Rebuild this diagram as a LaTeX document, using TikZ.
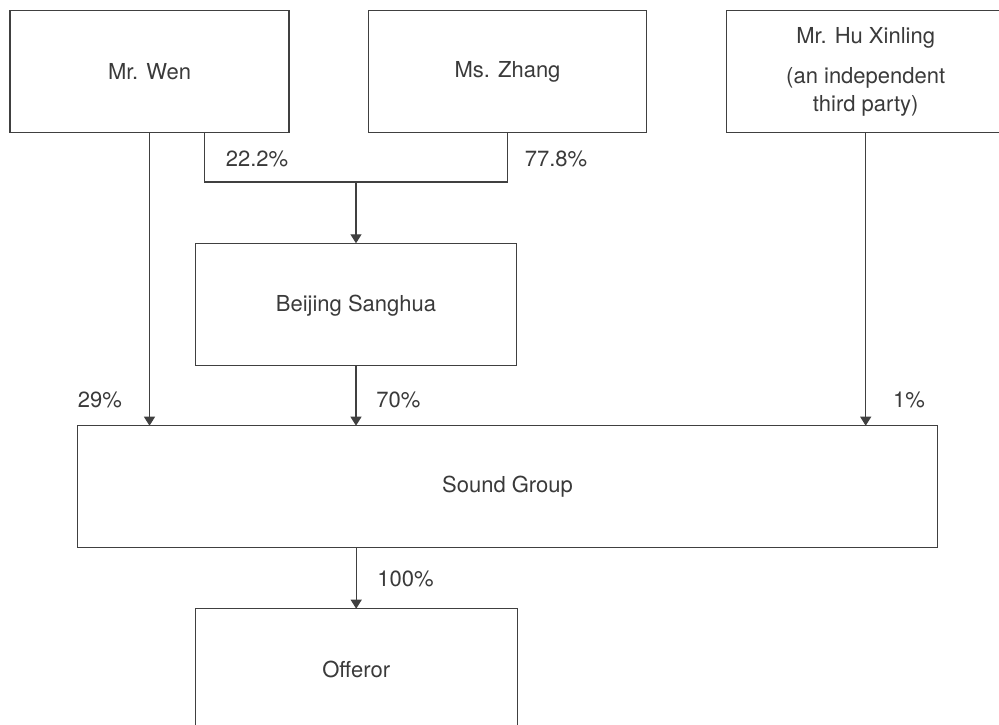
\documentclass[tikz,border=0pt]{standalone}
\usepackage{fontspec}
\setmainfont{TeX Gyre Heros}
\usetikzlibrary{arrows.meta}
\definecolor{lc}{HTML}{404040}
\definecolor{tc}{HTML}{3A3A3A}
\begin{document}
\begin{tikzpicture}[x=1pt,y=-1pt,
 box/.style={draw=lc, line width=1.1pt, inner sep=0pt, outer sep=0pt, minimum height=121.6pt, text=tc, font=\fontsize{22}{26}\selectfont, align=center},
 lbl/.style={text=tc, font=\fontsize{22}{26}\selectfont, inner sep=0pt},
 conn/.style={draw=lc, line width=1.1pt},
 arr/.style={conn, -{Triangle[width=11pt,length=9pt]}}]
\clip (0,0) rectangle (999,725);
\node[box, minimum width=279pt] (wen) at (149.5,71.5) {Mr. Wen};
\node[box, minimum width=278.4pt] (zhang) at (507.5,71.5) {Ms. Zhang};
\node[box, minimum width=278pt] (hu) at (865.7,71.5) {Mr. Hu Xinling\\[14pt](an independent\\[2pt]third party)};
\node[box, minimum width=321.4pt, minimum height=122pt, text depth=2pt] (bs) at (356,304.3) {Beijing Sanghua};
\node[box, minimum width=860.4pt, minimum height=122pt] (sg) at (507.5,486.7) {Sound Group};
\node[box, minimum width=321.7pt, minimum height=122pt] (off) at (356.2,669.7) {Offeror};
\coordinate (bL) at (204.7,182);
\coordinate (bR) at (507.5,182);
\coordinate (bJ) at (356,182);
\draw[arr] (wen.south) -- (wen.south |- sg.north);
\draw[conn] (wen.south -| bL) -- (bL) -- (bR) -- (zhang.south);
\draw[arr] (bJ) -- (bs.north);
\draw[arr] (bs.south) -- (bs.south |- sg.north);
\draw[arr] (hu.south) -- (hu.south |- sg.north);
\draw[arr] (sg.south -| off.north) -- (off.north);
\node[lbl] (l222) at (257,159) {22.2\%};
\node[lbl] (l778) at (556,159) {77.8\%};
\node[lbl] (l29) at (100,400) {29\%};
\node[lbl] (l70) at (398.5,400) {70\%};
\node[lbl] (l1) at (909,400) {1\%};
\node[lbl] (l100) at (405.5,579) {100\%};
\end{tikzpicture}
\end{document}
